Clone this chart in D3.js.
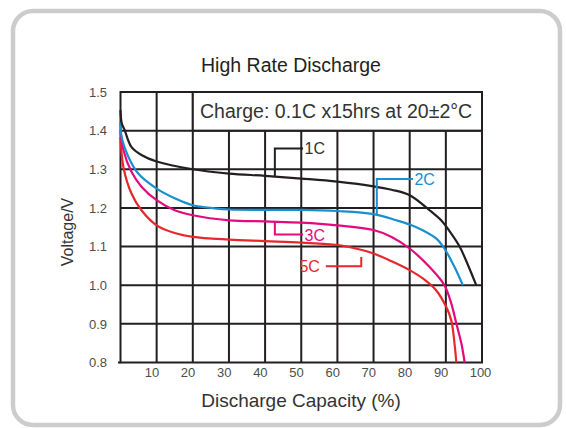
<!DOCTYPE html>
<html><head><meta charset="utf-8">
<script src="https://cdn.jsdelivr.net/npm/d3@7"></script>
<style>
html,body{margin:0;padding:0;background:#fff;}
svg{display:block;font-family:"Liberation Sans",Arial,Helvetica,sans-serif;}
</style></head>
<body>
<svg id="chart" width="566" height="428"></svg>
<script>
// ---- data ----
const title = "High Rate Discharge";
const chargeNote = "Charge: 0.1C x15hrs at 20\u00B12\u00B0C";
const xTitle = "Discharge Capacity (%)";
const yTitle = "Voltage/V";
const xTicks = [10, 20, 30, 40, 50, 60, 70, 80, 90, 100];
const yTicks = [0.8, 0.9, 1.0, 1.1, 1.2, 1.3, 1.4, 1.5];
const seriesNames = ["1C", "2C", "3C", "5C"];

const cap1C = [0, 0.35, 1.2, 3, 5.8, 10, 20, 30, 40, 50, 60, 70, 75, 80, 85.5, 89, 91, 93.8, 96, 98.4];
const volt1C = [1.453, 1.419, 1.40, 1.358, 1.337, 1.32, 1.30, 1.289, 1.283, 1.276, 1.268, 1.256, 1.247, 1.233, 1.194, 1.165, 1.14, 1.1, 1.055, 1.0];

const cap2C = [0, 0.3, 2.2, 4.9, 10, 15, 20, 26, 30, 40, 50, 60, 70, 76.3, 80, 83.6, 87.3, 89.6, 92.4, 94.7];
const volt2C = [1.423, 1.384, 1.332, 1.289, 1.25, 1.225, 1.207, 1.199, 1.196, 1.195, 1.195, 1.192, 1.184, 1.168, 1.157, 1.142, 1.121, 1.095, 1.047, 1.0];

const cap3C = [0, 0.8, 3, 5.8, 10, 15, 20, 30, 40, 50, 60, 70, 75, 80, 85.5, 89.6, 91.5, 92.9, 94.3, 95.2];
const volt3C = [1.40, 1.35, 1.294, 1.255, 1.22, 1.194, 1.181, 1.168, 1.165, 1.162, 1.155, 1.143, 1.125, 1.095, 1.047, 1.0, 0.953, 0.901, 0.849, 0.8];

const cap5C = [0, 0.8, 3, 5.8, 10, 15, 20, 30, 40, 50, 60, 65, 70, 75, 80, 84, 87.3, 90.1, 91.5, 92.4, 92.9];
const volt5C = [1.384, 1.306, 1.238, 1.194, 1.155, 1.135, 1.125, 1.118, 1.114, 1.11, 1.104, 1.095, 1.082, 1.062, 1.039, 1.015, 0.987, 0.944, 0.909, 0.849, 0.8];

// callouts: x of vertical, y start (near curve), y end, x end of horizontal
const calloutX = [42.7, 70.9, 42.7, 66.6];
const calloutY0 = [1.28, 1.183, 1.164, 1.073];
const calloutY1 = [1.354, 1.275, 1.131, 1.049];
const calloutX1 = [50.5, 80.9, 50.5, 56.8];

const colors = ["#231f20", "#1a8fd0", "#e5097f", "#e8262b"];
const labelColors = ["#333333", "#1a8fd0", "#e5097f", "#e8262b"];

// ---- drawing ----
const svg = d3.select("#chart");
svg.append("rect").attr("x", 13).attr("y", 11).attr("width", 547).attr("height", 414)
  .attr("rx", 20).attr("fill", "#fff").attr("stroke", "#cccccc").attr("stroke-width", 4.5);

const x = d3.scaleLinear().domain([0, 100]).range([120.5, 482]);
const y = d3.scaleLinear().domain([0.8, 1.5]).range([362.5, 92]);
const gridColor = "#231f20";

const g = svg.append("g");
// grid
g.selectAll("line.v").data(xTicks.filter(d => d < 100)).join("line")
  .attr("x1", d => x(d)).attr("x2", d => x(d)).attr("y1", y(0.8)).attr("y2", y(1.5))
  .attr("stroke", gridColor).attr("stroke-width", 2);
g.selectAll("line.h").data(yTicks.filter(d => d > 0.8 && d < 1.5)).join("line")
  .attr("x1", x(0)).attr("x2", x(100)).attr("y1", d => y(d)).attr("y2", d => y(d))
  .attr("stroke", gridColor).attr("stroke-width", 2);
g.append("rect").attr("x", x(0)).attr("y", y(1.5)).attr("width", x(100) - x(0)).attr("height", y(0.8) - y(1.5))
  .attr("fill", "none").attr("stroke", gridColor).attr("stroke-width", 2);
g.append("line").attr("x1", x(0) - 2.5).attr("x2", x(0)).attr("y1", y(0.8)).attr("y2", y(0.8))
  .attr("stroke", gridColor).attr("stroke-width", 2);

// charge note box
g.append("rect").attr("x", x(20)).attr("y", y(1.5)).attr("width", x(100) - x(20)).attr("height", y(1.4) - y(1.5))
  .attr("fill", "#fff").attr("stroke", gridColor).attr("stroke-width", 2);
g.append("text").attr("x", 200).attr("y", 117.5).attr("font-size", 19.5).attr("fill", "#333")
  .text(chargeNote);

// axes
const yAxis = d3.axisLeft(y).tickValues(yTicks).tickSize(0).tickPadding(13.5).tickFormat(d3.format(".1f"));
const ya = svg.append("g").attr("transform", `translate(${x(0)},0)`).call(yAxis);
ya.select(".domain").remove();
ya.selectAll("text").attr("font-size", 13).attr("fill", "#4d4d4d").attr("font-family", "Liberation Sans, Arial, sans-serif");

const xAxis = d3.axisBottom(x).tickValues(xTicks).tickSize(0).tickPadding(4.8).tickFormat(d3.format("d"));
const xa = svg.append("g").attr("transform", `translate(0,${y(0.8)})`).call(xAxis);
xa.select(".domain").remove();
xa.selectAll("text").attr("font-size", 13).attr("fill", "#4d4d4d").attr("font-family", "Liberation Sans, Arial, sans-serif")
  .attr("text-anchor", d => d === 100 ? "middle" : "end")
  .attr("x", d => d === 100 ? -2 : 2);

// curves
const caps = [cap1C, cap2C, cap3C, cap5C];
const volts = [volt1C, volt2C, volt3C, volt5C];
const line = d3.line().x(d => x(d[0])).y(d => y(d[1])).curve(d3.curveCatmullRom.alpha(0.5));
const drawOrder = [3, 2, 1, 0];
drawOrder.forEach(i => {
  const pts = caps[i].map((c, k) => [c, volts[i][k]]);
  g.append("path").attr("d", line(pts)).attr("fill", "none")
    .attr("stroke", colors[i]).attr("stroke-width", 2.2).attr("stroke-linejoin", "round");
});

// callouts
seriesNames.forEach((name, i) => {
  const pts = [[calloutX[i], calloutY0[i]], [calloutX[i], calloutY1[i]], [calloutX1[i], calloutY1[i]]];
  g.append("path").attr("d", d3.line().x(d => x(d[0])).y(d => y(d[1]))(pts))
    .attr("fill", "none").attr("stroke", colors[i]).attr("stroke-width", 2);
  const t = g.append("text").attr("font-size", 16).attr("fill", labelColors[i])
    .attr("dominant-baseline", "central").attr("y", y(calloutY1[i]) + 0.5).text(name);
  if (calloutX1[i] < calloutX[i]) {
    t.attr("x", x(calloutX1[i]) - 6).attr("text-anchor", "end");
  } else {
    t.attr("x", x(calloutX1[i]) + 1.5).attr("text-anchor", "start");
  }
});

// titles
svg.append("text").attr("x", 291).attr("y", 72).attr("text-anchor", "middle")
  .attr("font-size", 19.5).attr("fill", "#231f20").text(title);
svg.append("text").attr("x", 301).attr("y", 407.3).attr("text-anchor", "middle")
  .attr("font-size", 19).attr("fill", "#333").text(xTitle);
svg.append("text").attr("transform", "translate(73,232) rotate(-90)").attr("text-anchor", "middle")
  .attr("font-size", 16).attr("fill", "#333").text(yTitle);
</script>
</body></html>
